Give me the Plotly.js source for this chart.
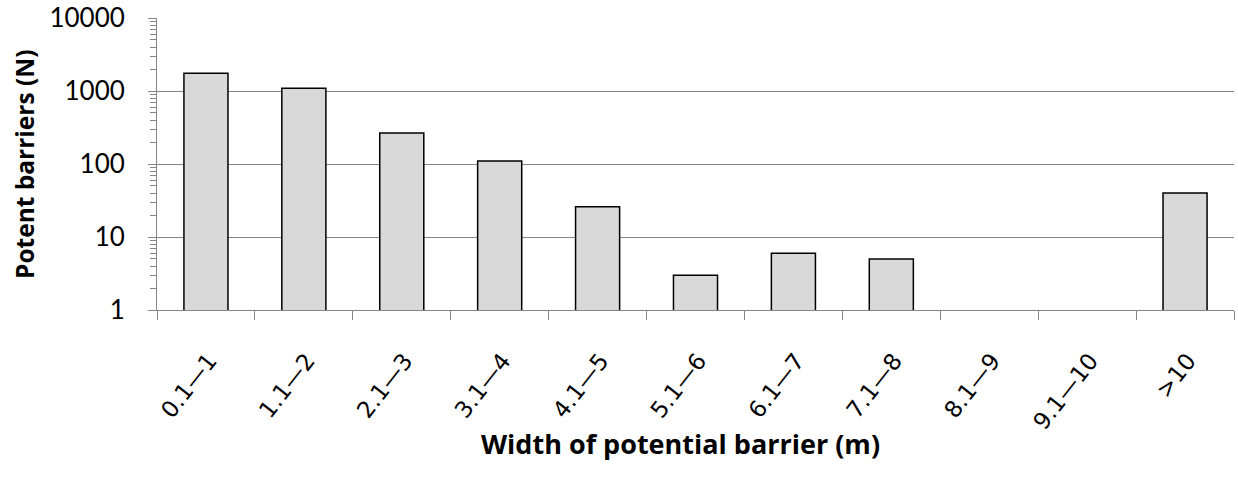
<!DOCTYPE html>
<html>
<head>
<meta charset="utf-8">
<script src="https://cdn.plot.ly/plotly-3.0.1.min.js"></script>
<style>html,body{margin:0;padding:0;background:#fff;}#chart{width:1238px;height:484px;}</style>
</head>
<body>
<div id="chart"></div>
<script>
const categories = ["0.1\u20141", "1.1\u20142", "2.1\u20143", "3.1\u20144", "4.1\u20145", "5.1\u20146", "6.1\u20147", "7.1\u20148", "8.1\u20149", "9.1\u201410", ">10"];
const barrierCounts = [1750, 1090, 265, 110, 26, 3, 6, 5, null, null, 40];
const yTickValues = [1, 10, 100, 1000, 10000];
const yTickLabels = ["1", "10", "100", "1000", "10000"];
const xTitle = 'Width of potential barrier (m)';
const yTitle = 'Potent barriers (N)';

const trace = {
  type: 'bar',
  x: categories,
  y: barrierCounts,
  marker: { color: '#d9d9d9', line: { color: '#000000', width: 1.5 } },
  hoverinfo: 'x+y'
};

const layout = {
  width: 1238,
  height: 484,
  margin: { l: 157, r: 4, t: 18, b: 174 },
  paper_bgcolor: '#ffffff',
  plot_bgcolor: '#ffffff',
  bargap: 0.55,
  showlegend: false,
  font: { family: 'Lato, "Open Sans", sans-serif', color: '#000000' },
  xaxis: {
    type: 'category',
    tickson: 'boundaries',
    ticks: 'outside',
    ticklen: 9,
    tickcolor: '#868686',
    tickwidth: 1,
    showline: true,
    linecolor: '#868686',
    linewidth: 1,
    showgrid: false,
    tickangle: -52,
    ticklabelstandoff: 27,
    ticklabelshift: 3,
    tickfont: { family: '"DejaVu Sans", sans-serif', size: 23, color: '#000000' },
    automargin: false
  },
  yaxis: {
    type: 'log',
    range: [0, 4],
    tickvals: yTickValues,
    ticktext: yTickLabels,
    ticks: 'outside',
    ticklen: 8,
    tickcolor: '#868686',
    tickwidth: 1,
    showline: true,
    linecolor: '#868686',
    linewidth: 1,
    showgrid: true,
    gridcolor: '#868686',
    gridwidth: 1,
    zeroline: false,
    ticklabelstandoff: 18,
    tickfont: { family: 'Lato, "Open Sans", sans-serif', size: 26, color: '#000000' },
    minor: { ticks: 'outside', ticklen: 6, tickcolor: '#868686', dtick: 'D1', showgrid: false },
    automargin: false
  },
  annotations: [
    { text: '<b>' + xTitle + '</b>', xref: 'paper', yref: 'paper', x: 0.4865, y: -0.4555, xanchor: 'center', yanchor: 'middle', showarrow: false, font: { family: '"Open Sans", sans-serif', size: 27, color: '#000000' } },
    { text: '<b>' + yTitle + '</b>', xref: 'paper', yref: 'paper', x: -0.1235, y: 0.5, xanchor: 'center', yanchor: 'middle', textangle: -90, showarrow: false, font: { family: '"Open Sans", sans-serif', size: 24.5, color: '#000000' } }
  ]
};

Plotly.newPlot('chart', [trace], layout, { displayModeBar: false, staticPlot: true });
</script>
</body>
</html>
